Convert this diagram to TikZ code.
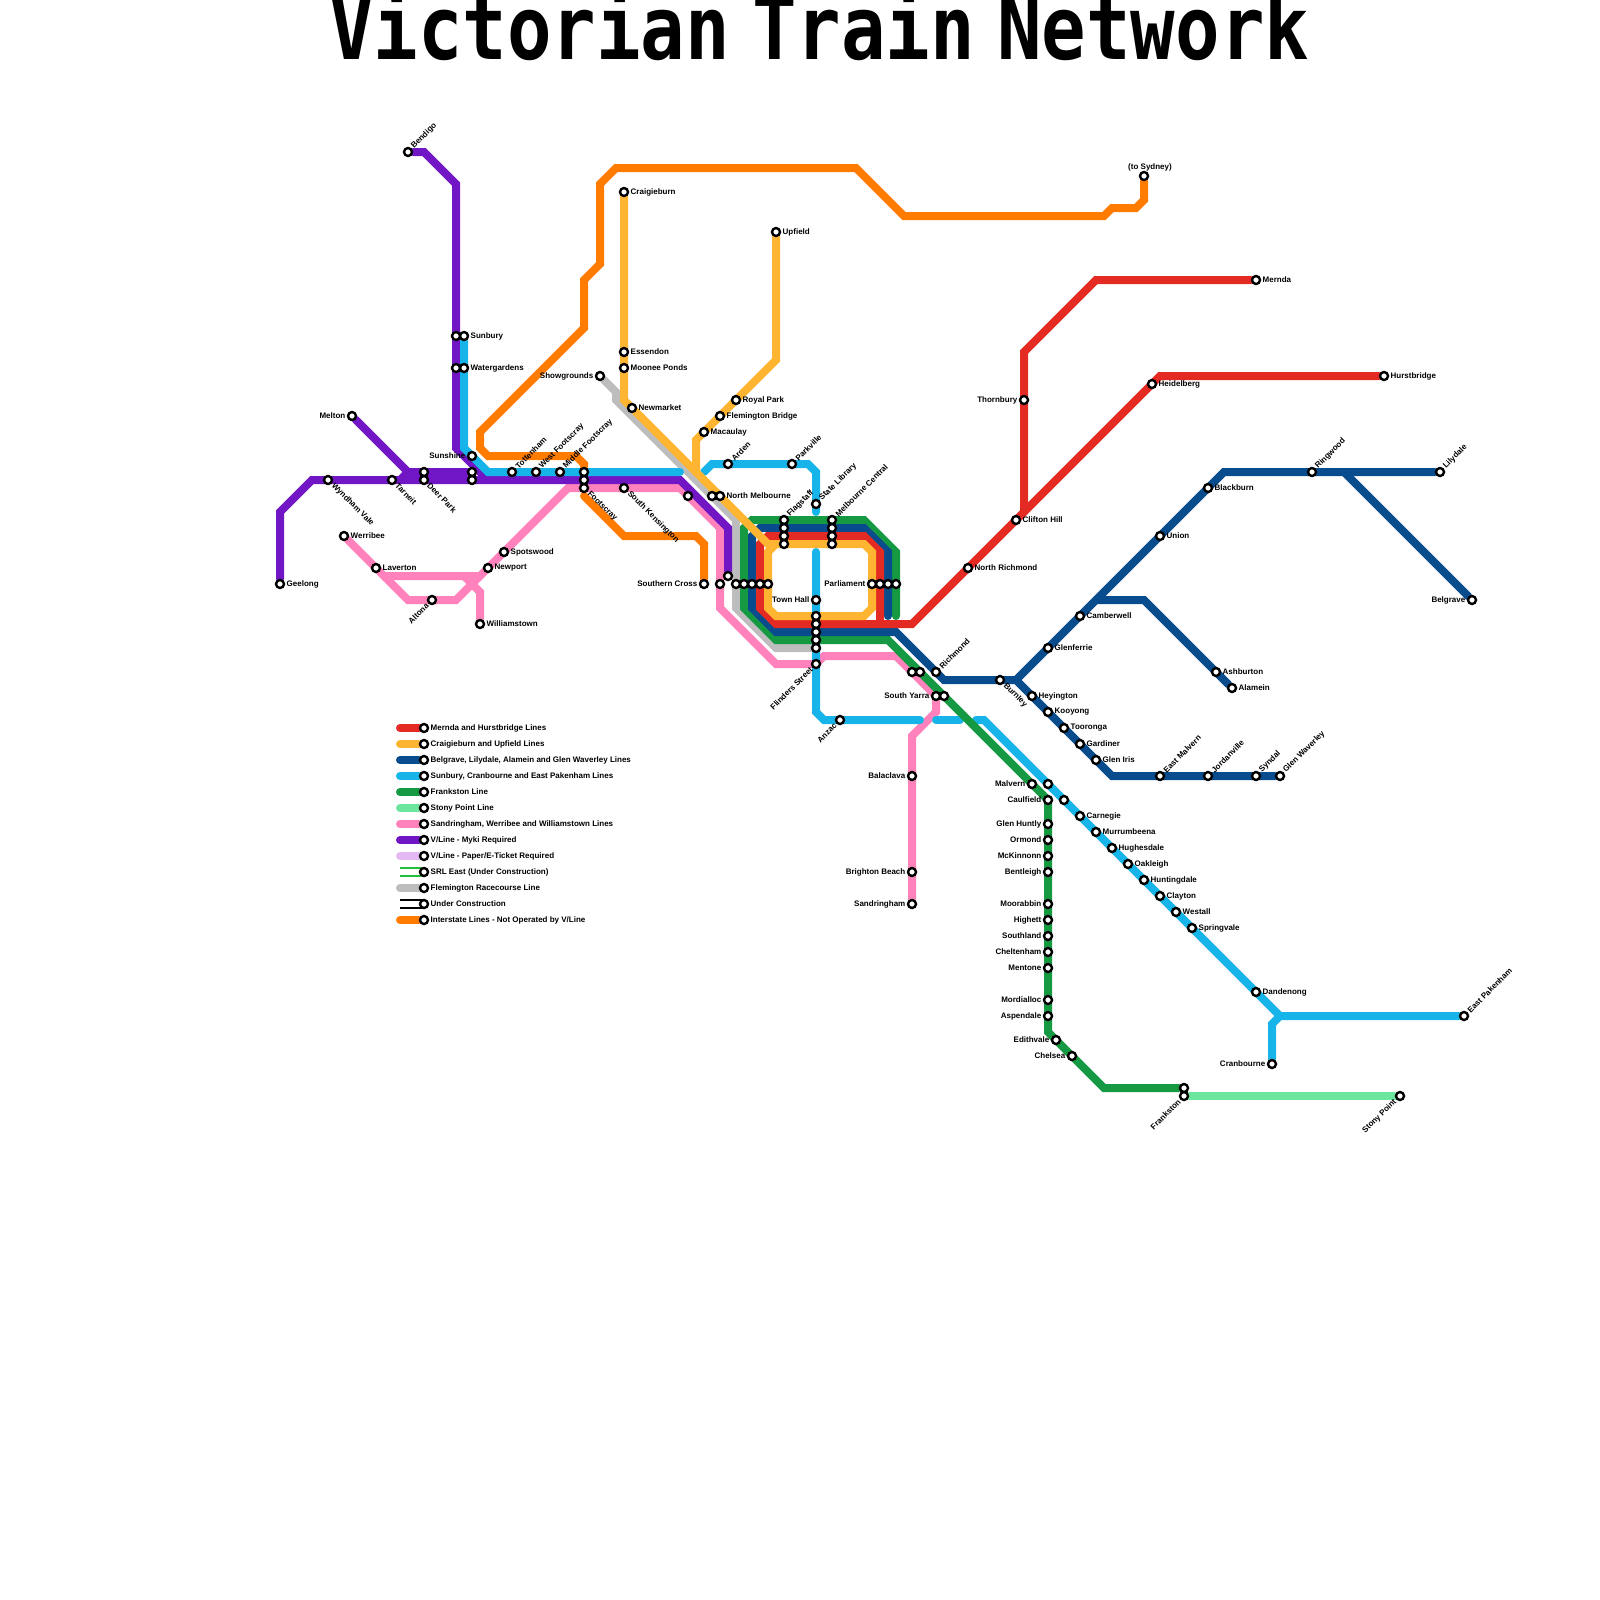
\documentclass[tikz,border=0pt]{standalone}
\usepackage{fontspec}
\usepackage{graphicx}
\setmainfont{Liberation Sans}
\newfontfamily\titlefont[WordSpace=0.5]{DejaVu Sans Mono}
\usetikzlibrary{backgrounds}
\definecolor{RedClr}{HTML}{E42B23}
\definecolor{YellowClr}{HTML}{FFB531}
\definecolor{BlueClr}{HTML}{094C8D}
\definecolor{SkyClr}{HTML}{16B4E8}
\definecolor{GreenClr}{HTML}{159943}
\definecolor{MintClr}{HTML}{6CE59D}
\definecolor{PinkClr}{HTML}{FF82BD}
\definecolor{PurpleClr}{HTML}{7016C4}
\definecolor{LilacClr}{HTML}{E3B8F4}
\definecolor{GreyClr}{HTML}{BDBDBD}
\definecolor{OrangeClr}{HTML}{FF7C00}
\definecolor{SrlClr}{HTML}{22C03C}
\tikzset{
  stn/.style={circle,draw=black,fill=white,line width=2.4pt,minimum size=8pt,inner sep=0pt},
  stnText/.style={font=\bfseries\fontsize{8}{8}\selectfont,inner sep=0pt,text=black},
  textE/.style={stnText,anchor=west,xshift=6.5pt},
  textW/.style={stnText,anchor=east,xshift=-6.5pt},
  textNE/.style={stnText,anchor=west,rotate=45,xshift=6.5pt},
  textSE/.style={stnText,anchor=west,rotate=-45,xshift=6.5pt},
  textSW/.style={stnText,anchor=east,rotate=45,xshift=-6.5pt},
  metro/.style={line width=8pt,line cap=round,line join=miter},
  twin/.style={line width=1.4pt},
}

\begin{document}
\begin{tikzpicture}[x=8pt,y=-8pt]
\useasboundingbox (0,0) rectangle (200,200);

\node[anchor=base] (title) at (102.4,7.5)
  {\scalebox{1}[1.19]{\titlefont\bfseries\fontsize{74}{74}\selectfont Victorian Train Network}};

% stations with a label to the right
\foreach \id/\x/\y/\txt in {Sunbury/58/42/Sunbury,Watergardens/58/46/Watergardens,Craigieburn/78/24/Craigieburn,
  Essendon/78/44/Essendon,MooneePonds/78/46/Moonee Ponds,Newmarket/79/51/Newmarket,Upfield/97/29/Upfield,
  RoyalPark/92/50/Royal Park,FlemingtonBridge/90/52/Flemington Bridge,Macaulay/88/54/Macaulay,
  NorthMelbourne/90/62/North Melbourne,Mernda/157/35/Mernda,Hurstbridge/173/47/Hurstbridge,Heidelberg/144/48/Heidelberg,
  CliftonHill/127/65/Clifton Hill,NorthRichmond/121/71/North Richmond,Blackburn/151/61/Blackburn,Union/145/67/Union,
  Camberwell/135/77/Camberwell,Glenferrie/131/81/Glenferrie,Ashburton/152/84/Ashburton,Alamein/154/86/Alamein,
  Heyington/129/87/Heyington,Kooyong/131/89/Kooyong,Tooronga/133/91/Tooronga,Gardiner/135/93/Gardiner,GlenIris/137/95/Glen Iris,
  Carnegie/135/102/Carnegie,Murrumbeena/137/104/Murrumbeena,Hughesdale/139/106/Hughesdale,Oakleigh/141/108/Oakleigh,
  Huntingdale/143/110/Huntingdale,Clayton/145/112/Clayton,Westall/147/114/Westall,Springvale/149/116/Springvale,
  Dandenong/157/124/Dandenong,Geelong/35/73/Geelong,Werribee/43/67/Werribee,Laverton/47/71/Laverton,Newport/61/71/Newport,
  Spotswood/63/69/Spotswood,Williamstown/60/78/Williamstown}
  {\node[stn] (\id) at (\x,\y) {}; \node[textE] (\id Text) at (\id) {\txt};}

% stations with a label to the left
\foreach \id/\x/\y/\txt in {Melton/44/52/Melton,Sunshine/59/57/Sunshine,Showgrounds/75/47/Showgrounds,
  SouthernCross/88/73/Southern Cross,Parliament/109/73/Parliament,TownHall/102/75/Town Hall,Thornbury/128/50/Thornbury,
  Balaclava/114/97/Balaclava,BrightonBeach/114/109/Brighton Beach,Sandringham/114/113/Sandringham,SouthYarra/117/87/South Yarra,
  Malvern/129/98/Malvern,Caulfield/131/100/Caulfield,GlenHuntly/131/103/Glen Huntly,Ormond/131/105/Ormond,McKinnon/131/107/McKinnonn,
  Bentleigh/131/109/Bentleigh,Moorabbin/131/113/Moorabbin,Highett/131/115/Highett,Southland/131/117/Southland,
  Cheltenham/131/119/Cheltenham,Mentone/131/121/Mentone,Mordialloc/131/125/Mordialloc,Aspendale/131/127/Aspendale,
  Edithvale/132/130/Edithvale,Chelsea/134/132/Chelsea,Cranbourne/159/133/Cranbourne,Belgrave/184/75/Belgrave}
  {\node[stn] (\id) at (\x,\y) {}; \node[textW] (\id Text) at (\id) {\txt};}

% rotated labels
\foreach \id/\x/\y/\txt in {Bendigo/51/19/Bendigo,Tottenham/64/59/Tottenham,WestFootscray/67/59/West Footscray,
  MiddleFootscray/70/59/Middle Footscray,Arden/91/58/Arden,Parkville/99/58/Parkville,StateLibrary/102/63/State Library,
  Flagstaff/98/65/Flagstaff,MelbourneCentral/104/65/Melbourne Central,Richmond/117/84/Richmond,EastMalvern/145/97/East Malvern,
  Jordanville/151/97/Jordanville,Syndal/157/97/Syndal,GlenWaverley/160/97/Glen Waverley,Ringwood/164/59/Ringwood,
  Lilydale/180/59/Lilydale,EastPakenham/183/127/East Pakenham}
  {\node[stn] (\id) at (\x,\y) {}; \node[textNE] (\id Text) at (\id) {\txt};}
\foreach \id/\x/\y/\txt in {WyndhamVale/41/60/Wyndham Vale,Tarneit/49/60/Tarneit,DeerPark/53/60/Deer Park,
  Footscray/73/61/Footscray,SouthKensington/78/61/South Kensington,Burnley/125/85/Burnley}
  {\node[stn] (\id) at (\x,\y) {}; \node[textSE] (\id Text) at (\id) {\txt};}
\foreach \id/\x/\y/\txt in {Altona/54/75/Altona,FlindersStreet/102/83/Flinders Street,Anzac/105/90/Anzac,
  Frankston/148/137/Frankston,StonyPoint/175/137/Stony Point}
  {\node[stn] (\id) at (\x,\y) {}; \node[textSW] (\id Text) at (\id) {\txt};}

\node[stn] (Sydney) at (143,22) {};
\node[stnText,anchor=south,yshift=5pt,xshift=6pt] (Sydney Text) at (Sydney) {(to Sydney)};

% platforms without a label
\foreach \id/\x/\y in {SunburyVL/57/42,WatergardensVL/57/46,DeerParkB/53/59,SunshineB/59/59,SunshineC/59/60,
  FootscrayA/73/59,FootscrayB/73/60,KensingtonB/86/62,NorthMelbourneB/89/62,ArdenB/91/72,CrossB/90/73,CrossC/92/73,
  CrossD/93/73,CrossE/94/73,CrossF/95/73,CrossG/96/73,ParliamentB/110/73,ParliamentC/111/73,ParliamentD/112/73,
  FlagstaffB/98/66,FlagstaffC/98/67,FlagstaffD/98/68,CentralB/104/66,CentralC/104/67,CentralD/104/68,
  FlindersB/102/77,FlindersC/102/78,FlindersD/102/79,FlindersE/102/80,FlindersF/102/81,RichmondB/114/84,RichmondC/115/84,
  SouthYarraB/118/87,MalvernB/131/98,CaulfieldB/133/100,FrankstonB/148/136}
  {\node[stn] (\id) at (\x,\y) {};}

% legend
\foreach \y/\clr/\txt in {91/RedClr/{Mernda and Hurstbridge Lines},93/YellowClr/{Craigieburn and Upfield Lines},
  95/BlueClr/{Belgrave, Lilydale, Alamein and Glen Waverley Lines},97/SkyClr/{Sunbury, Cranbourne and East Pakenham Lines},
  99/GreenClr/{Frankston Line},101/MintClr/{Stony Point Line},103/PinkClr/{Sandringham, Werribee and Williamstown Lines},
  105/PurpleClr/{V/Line - Myki Required},107/LilacClr/{V/Line - Paper/E-Ticket Required},
  111/GreyClr/{Flemington Racecourse Line},115/OrangeClr/{Interstate Lines - Not Operated by V/Line}}
  {\node[stn] (key\y) at (53,\y) {};
   \node[textE] (key\y Text) at (key\y) {\txt};
   \coordinate (keyStart\y) at (50,\y);
   \begin{scope}[on background layer]
     \draw[metro,\clr] (keyStart\y) -- (key\y);
   \end{scope}}
\foreach \y/\clr/\txt in {109/SrlClr/{SRL East (Under Construction)},113/black/{Under Construction}}
  {\node[stn] (key\y) at (53,\y) {};
   \node[textE] (key\y Text) at (key\y) {\txt};
   \coordinate (keyStart\y) at (50,\y);
   \begin{scope}[on background layer]
     \draw[twin,\clr] ([yshift=4pt]keyStart\y) -- ([yshift=4pt]key\y.center);
     \draw[twin,\clr] ([yshift=-4pt]keyStart\y) -- ([yshift=-4pt]key\y.center);
   \end{scope}}

\begin{scope}[on background layer]
\draw[metro,GreyClr] (Showgrounds) -- (77,49) -- (77,50) -- (92,65) -- (92,76) -- (97,81) -- (FlindersF);
\draw[metro,PinkClr] (Werribee) -- (51,75) -- (57,75) -- (60,72);
\draw[metro,PinkClr] (48,72) -- (60,72) -- (71,61) -- (85,61) -- (90,66) -- (90,76) -- (97,83) -- (FlindersStreet.center)
  -- (103,82) -- (112,82) -- (117,87) -- (117,89) -- (114,92) -- (Sandringham);
\draw[metro,PinkClr] (58,72) -- (60,74) -- (Williamstown);
\draw[metro,PurpleClr] (Geelong) -- (35,64) -- (39,60) -- (85,60) -- (91,66) -- (ArdenB);
\draw[metro,PurpleClr] (Melton) -- (51,59) -- (SunshineB);
\draw[metro,PurpleClr] (51,59) -- (50,60);
\draw[metro,PurpleClr] (Bendigo) -- (53,19) -- (57,23) -- (57,56) -- (61,60);
\draw[metro,SkyClr] (Sunbury) -- (58,56) -- (61,59) -- (85,59);
\draw[metro,SkyClr] (88,59) -- (89,58) -- (101,58) -- (102,59) -- (102,64);
\draw[metro,SkyClr] (102,69) -- (102,89) -- (103,90) -- (115,90);
\draw[metro,SkyClr] (117,90) -- (120,90);
\draw[metro,SkyClr] (122,90) -- (123,90) -- (160,127) -- (EastPakenham);
\draw[metro,SkyClr] (Cranbourne) -- (159,128) -- (160,127);
\draw[metro,OrangeClr] (FootscrayA) -- (73,58) -- (72,57) -- (61,57) -- (60,56) -- (60,54) -- (73,41) -- (73,35) -- (75,33)
  -- (75,23) -- (77,21) -- (107,21) -- (113,27) -- (138,27) -- (139,26) -- (142,26) -- (143,25) -- (Sydney);
\draw[metro,OrangeClr] (73,62) -- (78,67) -- (87,67) -- (88,68) -- (SouthernCross);
\draw[metro,MintClr] (Frankston) -- (StonyPoint);
\draw[metro,GreenClr] (FrankstonB) -- (138,136) -- (131,129) -- (131,100) -- (111,80) -- (97,80) -- (93,76) -- (93,66)
  -- (94,65) -- (108,65) -- (112,69) -- (112,77);
\draw[metro,BlueClr] (GlenWaverley) -- (139,97) -- (127,85) -- (118,85) -- (112,79) -- (97,79) -- (94,76) -- (94,67)
  -- (95,66) -- (108,66) -- (111,69) -- (111,77);
\draw[metro,BlueClr] (127,85) -- (153,59) -- (Lilydale);
\draw[metro,BlueClr] (168,59) -- (Belgrave);
\draw[metro,BlueClr] (137,75) -- (143,75) -- (Alamein);
\draw[metro,RedClr] (Hurstbridge) -- (145,47) -- (114,78) -- (97,78) -- (95,76) -- (95,68) -- (96,67) -- (108,67) -- (110,69) -- (110,78);
\draw[metro,RedClr] (Mernda) -- (137,35) -- (128,44) -- (128,64);
\draw[metro,YellowClr] (Craigieburn) -- (78,50) -- (96,68) -- (108,68) -- (109,69) -- (109,76) -- (108,77) -- (97,77) -- (96,76)
  -- (96,69) -- (97,68);
\draw[metro,YellowClr] (Upfield) -- (97,45) -- (87,55) -- (87,59);
\end{scope}
\end{tikzpicture}
\end{document}
